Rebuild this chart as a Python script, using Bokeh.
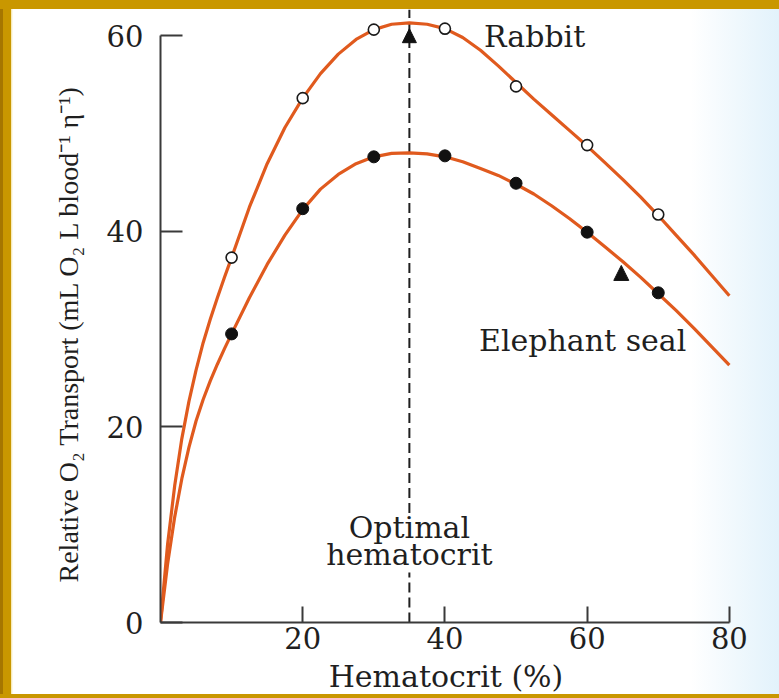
from bokeh.embed import file_html
from bokeh.resources import INLINE
from bokeh.plotting import figure
from bokeh.models import Arrow, NormalHead, Label, FixedTicker, Title

# Measured points (hematocrit %, relative O2 transport)
hematocrit_pts = [10, 20, 30, 40, 50, 60, 70]
rabbit_pts = [37.3, 53.6, 60.6, 60.7, 54.8, 48.8, 41.7]
seal_pts = [29.5, 42.3, 47.6, 47.7, 44.9, 39.9, 33.7]

# Fitted curves through the measurements
curve_x = [0, 1, 2, 3, 4, 5, 6, 7, 8, 9, 10,
           12.5, 15, 17.5, 20, 22.5, 25, 27.5, 30, 32.5, 35, 37.5, 40,
           42.5, 45, 47.5, 50, 52.5, 55, 57.5, 60, 62.5, 65, 67.5, 70,
           72.5, 75, 77.5, 80]
rabbit_curve = [0, 8, 14, 18.8, 22.6, 25.8, 28.6, 31.0, 33.2, 35.3, 37.3,
                42.45, 46.9, 50.6, 53.6, 56.1, 58.1, 59.6, 60.6, 61.15, 61.3, 61.15, 60.7,
                59.8, 58.5, 56.9, 55.2, 53.5, 51.9, 50.3, 48.7, 47.0, 45.3, 43.5, 41.6,
                39.6, 37.6, 35.5, 33.4]
seal_curve = [0, 6, 10.8, 14.7, 17.9, 20.6, 22.8, 24.7, 26.4, 28.0, 29.5,
              33.2, 36.6, 39.6, 42.2, 44.3, 45.8, 46.9, 47.6, 47.95, 48.0, 47.9, 47.6,
              47.1, 46.4, 45.7, 44.8, 43.8, 42.6, 41.3, 39.9, 38.4, 36.9, 35.3, 33.6,
              31.9, 30.1, 28.2, 26.3]

optimal_hct = 35
x_ticks = [20, 40, 60, 80]
y_ticks = [0, 20, 40, 60]

CURVE = "#E05A1E"
INK = "#1f1f1f"
AXIS = "#3a3a3a"
SERIF = "DejaVu Serif"

p = figure(width=779, height=698, output_backend="svg", toolbar_location=None,
           x_range=(0, 80.3), y_range=(0, 62.66),
           min_border_left=160, min_border_right=48, min_border_top=9,
           min_border_bottom=76)

p.border_fill_color = None
p.background_fill_color = None
p.outline_line_color = None
p.grid.visible = False
p.styles = {
    "background":
        "linear-gradient(#C99700, #C99700) top left / 100% 9px no-repeat, "
        "linear-gradient(#C99700, #C99700) bottom left / 100% 4px no-repeat, "
        "linear-gradient(to right, #A67600 0px, #A67600 3px, #C99700 3px, "
        "#C99700 11px, #F3E3A0 11px, #ffffff 13px, #ffffff 690px, #E2F2FB 779px)"
}

for ax, ticks, bounds in ((p.xaxis[0], x_ticks, (0, 80)), (p.yaxis[0], y_ticks, (0, 60))):
    ax.ticker = FixedTicker(ticks=ticks)
    ax.bounds = bounds
    ax.axis_line_color = AXIS
    ax.axis_line_width = 2
    ax.major_tick_line_color = AXIS
    ax.major_tick_line_width = 2
    ax.major_tick_out = 0
    ax.minor_tick_line_color = None
    ax.major_label_text_font = SERIF
    ax.major_label_text_font_size = "29px"
    ax.major_label_text_color = INK

p.xaxis.major_tick_in = 16
p.xaxis.major_label_standoff = 4
p.xaxis.axis_label = "Hematocrit (%)"
p.xaxis.axis_label_text_font = SERIF
p.xaxis.axis_label_text_font_size = "30px"
p.xaxis.axis_label_text_font_style = "normal"
p.xaxis.axis_label_text_color = INK
p.xaxis.axis_label_standoff = 7

p.yaxis.major_tick_in = 22
p.yaxis.major_label_standoff = 17

# Rotated y-axis title; the trailing em space nudges the centred text downward
p.add_layout(Title(text="Relative O\u2082 Transport (mL O\u2082 L blood\u207b\u00b9 \u03b7\u207b\u00b9)\u2003\u00a0",
                   text_font="Liberation Serif", text_font_size="28px",
                   text_font_style="normal", text_color=INK,
                   align="center", standoff=40), "left")

# Optimal hematocrit marker line, interrupted by its caption
p.segment(x0=[optimal_hct, optimal_hct], y0=[0, 11.2],
          x1=[optimal_hct, optimal_hct], y1=[5.1, 62.66],
          line_color=INK, line_width=2, line_dash="10 5")
p.add_layout(Arrow(end=NormalHead(size=14, fill_color="#111111", line_color="#111111"),
                   x_start=optimal_hct, y_start=58.4, x_end=optimal_hct, y_end=60.7,
                   line_alpha=0))

# Curves
p.line(curve_x, rabbit_curve, line_color=CURVE, line_width=3.2, line_join="round")
p.line(curve_x, seal_curve, line_color=CURVE, line_width=3.2, line_join="round")

# Measured points
p.scatter(hematocrit_pts, rabbit_pts, marker="circle", size=11,
          fill_color="white", line_color="#1a1a1a", line_width=1.6)
p.scatter(hematocrit_pts, seal_pts, marker="circle", size=12,
          fill_color="#111111", line_color="#111111")

# Small pointer near the seal curve
p.add_layout(Arrow(end=NormalHead(size=15, fill_color="#111111", line_color="#111111"),
                   x_start=64.8, y_start=34.6, x_end=64.8, y_end=36.5, line_alpha=0))

# Curve and marker captions
for txt, x, y, align in (("Rabbit", 45.5, 59.9, "left"),
                         ("Elephant seal", 44.8, 28.8, "left"),
                         ("Optimal", optimal_hct, 9.7, "center"),
                         ("hematocrit", optimal_hct, 7.0, "center")):
    p.add_layout(Label(x=x, y=y, text=txt, text_font=SERIF, text_font_size="30px",
                       text_color=INK, text_align=align, text_baseline="alphabetic"))

open("out.html", "w").write(file_html(p, INLINE))
